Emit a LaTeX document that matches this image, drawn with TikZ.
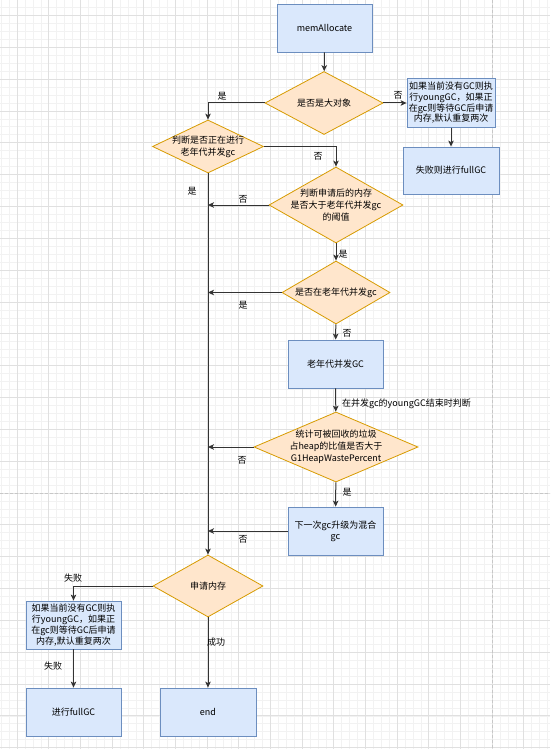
\documentclass[tikz,border=0pt]{standalone}
\usepackage{fontspec}
\newfontfamily\cjk{Noto Sans CJK SC}
\usetikzlibrary{arrows.meta,shapes.geometric}

\definecolor{boxfill}{HTML}{DAE8FC}
\definecolor{boxline}{HTML}{6C8EBF}
\definecolor{decfill}{HTML}{FFE6CC}
\definecolor{decline}{HTML}{D79B00}
\definecolor{linecol}{HTML}{333333}

\tikzset{
  box/.style={draw=boxline, fill=boxfill, line width=0.8pt, minimum width=95pt,
    minimum height=48pt, inner sep=1pt, align=center, font=\cjk\fontsize{9}{11}\selectfont},
  decision/.style={diamond, draw=decline, fill=decfill, line width=0.8pt, inner sep=0pt},
  dtext/.style={align=center, inner sep=0pt, font=\cjk\fontsize{9}{12}\selectfont},
  arr/.style={draw=linecol, line width=1pt, -{Stealth[length=6pt,width=5.5pt,inset=1.5pt]}},
  lbl/.style={inner sep=0pt, font=\cjk\fontsize{9}{11}\selectfont},
  minorgrid/.style={draw=black!5, line width=0.5pt},
  majorgrid/.style={draw=black!12, line width=0.6pt},
  pagebreak/.style={draw=black!22, line width=0.7pt, dash pattern=on 3pt off 2pt}
}

\begin{document}
\begin{tikzpicture}[x=1pt, y=-1pt]
  %%%%% background grid %%%%%
  \fill[white] (0,0) rectangle (550,749);
  \useasboundingbox (0,0) rectangle (550,749);
  \foreach \k in {-2,...,68} {
    \draw[minorgrid] ({17+7.9175*\k},0) -- ({17+7.9175*\k},749);
  }
  \foreach \k in {-1,...,93} {
    \draw[minorgrid] (0,{15.3+7.96*\k}) -- (550,{15.3+7.96*\k});
  }
  \foreach \k in {0,...,17} {
    \draw[majorgrid] ({17+31.67*\k},0) -- ({17+31.67*\k},749);
  }
  \foreach \k in {0,...,23} {
    \draw[majorgrid] (0,{15.3+31.84*\k}) -- (550,{15.3+31.84*\k});
  }
  \draw[pagebreak] (492,0) -- (492,749);
  \draw[pagebreak] (0,493) -- (550,493);

  %%%%% nodes %%%%%
  \node[box] (mem) at (324.5,28) {memAllocate};
  \node[decision, minimum width=118pt, minimum height=63pt,
    label={[dtext]center:是否是大对象}] (big) at (324,103) {};
  \node[box, minimum width=88pt, minimum height=49pt, font=\cjk\fontsize{9}{10.7}\selectfont]
    (retry) at (451,103) {如果当前没有GC则执\\行youngGC，如果正\\在gc则等待GC后申请\\内存,默认重复两次};
  \node[box, minimum width=96pt, minimum height=47pt] (fullA) at (451,170.5) {失败则进行fullGC};

  \node[decision, minimum width=111pt, minimum height=53pt,
    label={[dtext]center:{判断是否正在进行\\老年代并发gc}}] (running) at (208,146.5) {};
  \node[decision, minimum width=134pt, minimum height=76pt,
    label={[dtext]center:{判断申请后的内存\\是否大于老年代并发gc\\的阈值}}] (thresh) at (336,205) {};
  \node[decision, minimum width=108pt, minimum height=63pt,
    label={[dtext]center:是否在老年代并发gc}] (inconc) at (336,292.5) {};
  \node[box] (oldgc) at (335.5,364) {老年代并发GC};
  \node[decision, minimum width=164pt, minimum height=70pt,
    label={[dtext]center:{统计可被回收的垃圾\\占heap的比值是否大于\\G1HeapWastePercent}}] (waste) at (336,447) {};
  \node[box] (mixed) at (335.5,531) {下一次gc升级为混合\\gc};

  \node[decision, minimum width=110pt, minimum height=62pt,
    label={[dtext]center:申请内存}] (alloc) at (208,586) {};
  \node[box, font=\cjk\fontsize{9}{10.7}\selectfont] (retryB) at (73.5,625)
    {如果当前没有GC则执\\行youngGC，如果正\\在gc则等待GC后申请\\内存,默认重复两次};
  \node[box] (fullB) at (73.5,712) {进行fullGC};
  \node[box, minimum width=96pt] (finish) at (208,712) {end};

  %%%%% connectors %%%%%
  \draw[arr] (mem) -- (big);
  \draw[arr] (big.west) -| (running.north);
  \draw[arr] (big.east) -- (retry.west);
  \draw[arr] (retry) -- (fullA);
  \draw[arr] (running.east) -| (thresh.north);
  \draw[arr] (running.south) -- (alloc.north);
  \draw[arr] (thresh.west) -- (thresh.west -| alloc.north);
  \draw[arr] (thresh) -- (inconc);
  \draw[arr] (inconc.west) -- (inconc.west -| alloc.north);
  \draw[arr] (inconc) -- (oldgc);
  \draw[arr] (oldgc) -- (waste);
  \draw[arr] (waste.west) -- (waste.west -| alloc.north);
  \draw[arr] (waste) -- (mixed);
  \draw[arr] (mixed.west) -- (mixed.west -| alloc.north);
  \draw[arr] (alloc.west) -| (retryB.north);
  \draw[arr] (retryB) -- (fullB);
  \draw[arr] (alloc) -- (finish);

  %%%%% labels %%%%%
  \node[lbl] (bigyes) at (222,96) {是};
  \node[lbl] (bigno) at (398,95) {否};
  \node[lbl] (runno) at (318,156) {否};
  \node[lbl] (runyes) at (192,191) {是};
  \node[lbl] (thrno) at (243,199) {否};
  \node[lbl] (thryes) at (343,254) {是};
  \node[lbl] (concyes) at (243,305) {是};
  \node[lbl] (concno) at (347,333) {否};
  \node[lbl, anchor=west] (when) at (342,404) {在并发gc的youngGC结束时判断};
  \node[lbl] (wasteno) at (242,460) {否};
  \node[lbl] (wasteyes) at (347,492) {是};
  \node[lbl] (mixno) at (243,539) {否};
  \node[lbl] (allocfail) at (73,578) {失败};
  \node[lbl] (retryfail) at (53,666) {失败};
  \node[lbl] (allocok) at (216,642) {成功};
\end{tikzpicture}
\end{document}
